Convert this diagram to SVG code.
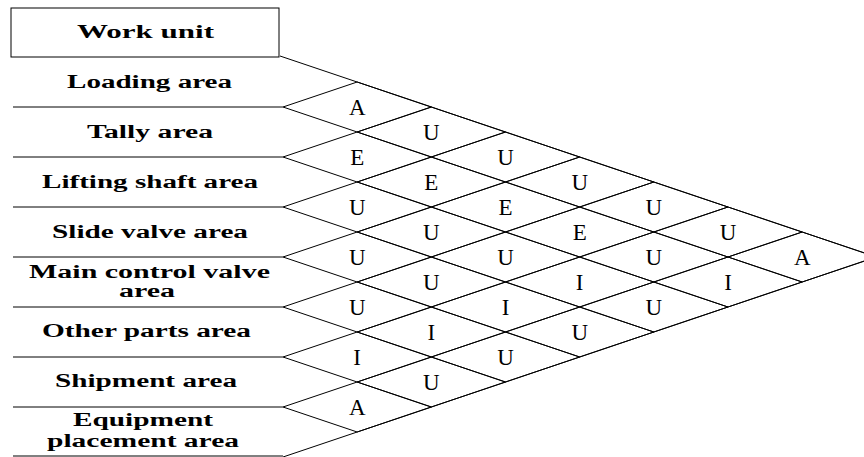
<svg xmlns="http://www.w3.org/2000/svg" xmlns:xlink="http://www.w3.org/1999/xlink" width="864" height="457" viewBox="0 0 864 457">
<style>
.ln{stroke:#000;stroke-width:1;fill:none}
.lb{font-family:"Liberation Serif","Times New Roman",serif;font-weight:bold;font-size:18.5px;fill:#000;text-anchor:middle}
.rl{font-family:"Liberation Serif","Times New Roman",serif;font-size:23px;fill:#000;text-anchor:middle}
</style>
<defs>
<polygon id="dm" class="ln" points="-74.17,0 0,-25 74.17,0 0,25"/>
</defs>
<rect width="864" height="457" fill="#fff"/>
<g id="grid">
<line class="ln" x1="13" y1="107" x2="283" y2="107"/>
<line class="ln" x1="13" y1="157" x2="283" y2="157"/>
<line class="ln" x1="13" y1="207" x2="283" y2="207"/>
<line class="ln" x1="13" y1="257" x2="283" y2="257"/>
<line class="ln" x1="13" y1="307" x2="283" y2="307"/>
<line class="ln" x1="13" y1="357" x2="283" y2="357"/>
<line class="ln" x1="13" y1="407" x2="283" y2="407"/>
<line class="ln" x1="13" y1="456" x2="283" y2="456"/>
<line class="ln" x1="280" y1="56" x2="876.3" y2="257"/>
<line class="ln" x1="283" y1="457" x2="876.3" y2="257"/>
</g>
<g id="header"><rect class="ln" x="11" y="8" width="268" height="49"/><text class="lb" x="145.5" y="38" textLength="137" lengthAdjust="spacingAndGlyphs">Work unit</text></g>
<g id="unit-loading"><text class="lb" x="149.5" y="88" textLength="165" lengthAdjust="spacingAndGlyphs">Loading area</text></g>
<g id="unit-tally"><text class="lb" x="150" y="138" textLength="126" lengthAdjust="spacingAndGlyphs">Tally area</text></g>
<g id="unit-lifting"><text class="lb" x="150" y="188" textLength="216" lengthAdjust="spacingAndGlyphs">Lifting shaft area</text></g>
<g id="unit-slide"><text class="lb" x="150" y="238" textLength="196" lengthAdjust="spacingAndGlyphs">Slide valve area</text></g>
<g id="unit-main"><text class="lb" x="149.5" y="278" textLength="241" lengthAdjust="spacingAndGlyphs">Main control valve</text><text class="lb" x="147" y="297" textLength="56" lengthAdjust="spacingAndGlyphs">area</text></g>
<g id="unit-other"><text class="lb" x="146.5" y="337" textLength="209" lengthAdjust="spacingAndGlyphs">Other parts area</text></g>
<g id="unit-shipment"><text class="lb" x="146" y="387" textLength="182" lengthAdjust="spacingAndGlyphs">Shipment area</text></g>
<g id="unit-equipment"><text class="lb" x="143" y="426" textLength="140" lengthAdjust="spacingAndGlyphs">Equipment</text><text class="lb" x="143" y="447" textLength="192" lengthAdjust="spacingAndGlyphs">placement area</text></g>
<g id="d01"><use xlink:href="#dm" x="357.2" y="107"/><text class="rl" x="357.2" y="114.5">A</text></g>
<g id="d12"><use xlink:href="#dm" x="357.2" y="157"/><text class="rl" x="357.2" y="164.5">E</text></g>
<g id="d23"><use xlink:href="#dm" x="357.2" y="207"/><text class="rl" x="357.2" y="214.5">U</text></g>
<g id="d34"><use xlink:href="#dm" x="357.2" y="257"/><text class="rl" x="357.2" y="264.5">U</text></g>
<g id="d45"><use xlink:href="#dm" x="357.2" y="307"/><text class="rl" x="357.2" y="314.5">U</text></g>
<g id="d56"><use xlink:href="#dm" x="357.2" y="357"/><text class="rl" x="357.2" y="364.5">I</text></g>
<g id="d67"><use xlink:href="#dm" x="357.2" y="407"/><text class="rl" x="357.2" y="414.5">A</text></g>
<g id="d02"><use xlink:href="#dm" x="431.3" y="132"/><text class="rl" x="431.3" y="139.5">U</text></g>
<g id="d13"><use xlink:href="#dm" x="431.3" y="182"/><text class="rl" x="431.3" y="189.5">E</text></g>
<g id="d24"><use xlink:href="#dm" x="431.3" y="232"/><text class="rl" x="431.3" y="239.5">U</text></g>
<g id="d35"><use xlink:href="#dm" x="431.3" y="282"/><text class="rl" x="431.3" y="289.5">U</text></g>
<g id="d46"><use xlink:href="#dm" x="431.3" y="332"/><text class="rl" x="431.3" y="339.5">I</text></g>
<g id="d57"><use xlink:href="#dm" x="431.3" y="382"/><text class="rl" x="431.3" y="389.5">U</text></g>
<g id="d03"><use xlink:href="#dm" x="505.5" y="157"/><text class="rl" x="505.5" y="164.5">U</text></g>
<g id="d14"><use xlink:href="#dm" x="505.5" y="207"/><text class="rl" x="505.5" y="214.5">E</text></g>
<g id="d25"><use xlink:href="#dm" x="505.5" y="257"/><text class="rl" x="505.5" y="264.5">U</text></g>
<g id="d36"><use xlink:href="#dm" x="505.5" y="307"/><text class="rl" x="505.5" y="314.5">I</text></g>
<g id="d47"><use xlink:href="#dm" x="505.5" y="357"/><text class="rl" x="505.5" y="364.5">U</text></g>
<g id="d04"><use xlink:href="#dm" x="579.7" y="182"/><text class="rl" x="579.7" y="189.5">U</text></g>
<g id="d15"><use xlink:href="#dm" x="579.7" y="232"/><text class="rl" x="579.7" y="239.5">E</text></g>
<g id="d26"><use xlink:href="#dm" x="579.7" y="282"/><text class="rl" x="579.7" y="289.5">I</text></g>
<g id="d37"><use xlink:href="#dm" x="579.7" y="332"/><text class="rl" x="579.7" y="339.5">U</text></g>
<g id="d05"><use xlink:href="#dm" x="653.8" y="207"/><text class="rl" x="653.8" y="214.5">U</text></g>
<g id="d16"><use xlink:href="#dm" x="653.8" y="257"/><text class="rl" x="653.8" y="264.5">U</text></g>
<g id="d27"><use xlink:href="#dm" x="653.8" y="307"/><text class="rl" x="653.8" y="314.5">U</text></g>
<g id="d06"><use xlink:href="#dm" x="728" y="232"/><text class="rl" x="728" y="239.5">U</text></g>
<g id="d17"><use xlink:href="#dm" x="728" y="282"/><text class="rl" x="728" y="289.5">I</text></g>
<g id="d07"><use xlink:href="#dm" x="802.2" y="257"/><text class="rl" x="802.2" y="264.5">A</text></g>
</svg>
